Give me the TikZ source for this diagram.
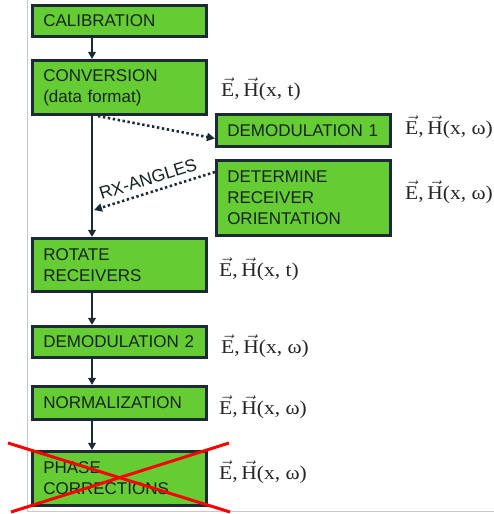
\documentclass[tikz,border=0pt]{standalone}
\usepackage{fontspec}
\usepackage{graphicx}
\usetikzlibrary{arrows.meta,calc}
\newfontfamily\arialf{Liberation Sans}
\newfontfamily\tmsf{Liberation Serif}
\definecolor{boxgreen}{HTML}{66CC33}
\definecolor{boxline}{HTML}{1B2A33}
\definecolor{txtdark}{HTML}{162222}
\definecolor{framegray}{HTML}{C8C8C8}
\tikzset{
  stepbox/.style={draw=boxline, line width=2.6pt, fill=boxgreen, text=txtdark,
    minimum width=174.5pt, inner xsep=11pt, text width=152.5pt, align=left,
    font=\arialf\fontsize{17}{21}\selectfont},
  flowarr/.style={draw=boxline, line width=2pt, -{Triangle[length=7pt,width=7.5pt]}},
  dotarr/.style={draw=boxline, line width=2.6pt, dash pattern=on 2.4pt off 2.6pt,
    -{Triangle[length=8pt,width=8pt]}},
  ehlab/.style={anchor=west, inner sep=0pt, text=black!85,
    font=\tmsf\fontsize{19.5}{22}\selectfont},
  redx/.style={draw=red, line width=3pt},
}
\newcommand{\ehvec}[1]{\scalebox{1.1}[1]{$\vec{\hbox{E}}$,$\,\vec{\hbox{H}}$(x,\ #1)}}
\begin{document}
\begin{tikzpicture}[x=1pt,y=-1pt]
\useasboundingbox (0,0) rectangle (494,514);
% frame
\draw[framegray, line width=0.9pt] (27,0) -- (27,511) -- (494,511);
% boxes
\node[stepbox, minimum height=31.5pt] (cal) at (119.5,21) {CALIBRATION};
\node[stepbox, minimum height=54.5pt] (conv) at (119.5,87.5) {CONVERSION\\(data format)};
\node[stepbox, minimum height=32.5pt] (dem1) at (303.5,130.5) {DEMODULATION 1};
\node[stepbox, minimum height=75.5pt] (det) at (303.5,198) {DETERMINE\\RECEIVER\\ORIENTATION};
\node[stepbox, minimum height=53.5pt] (rot) at (119.5,265) {ROTATE\\RECEIVERS};
\node[stepbox, minimum height=31.5pt] (dem2) at (119.5,342) {DEMODULATION 2};
\node[stepbox, minimum height=33.5pt] (norm) at (119.5,403) {NORMALIZATION};
\node[stepbox, minimum height=54.5pt] (phase) at (119.5,478.5) {PHASE\\CORRECTIONS};
% spine coordinates
\coordinate (spine) at (92,0);
\coordinate (dotstart) at (98,0);
\coordinate (rxend) at (94,210);
% solid arrows
\draw[flowarr] (cal.south -| spine) -- (conv.north -| spine);
\draw[flowarr] (conv.south -| spine) -- (rot.north -| spine);
\draw[flowarr] (rot.south -| spine) -- (dem2.north -| spine);
\draw[flowarr] (dem2.south -| spine) -- (norm.north -| spine);
\draw[flowarr] (norm.south -| spine) -- (phase.north -| spine);
% dotted arrows
\draw[dotarr] (conv.south -| dotstart) -- ($(dem1.west)+(0,8)$);
\draw[dotarr] ($(det.west)+(0,-26)$) -- node[pos=0.52, sloped, above=2.5pt, text=txtdark,
  font=\arialf\fontsize{17.5}{19}\selectfont] (rxlab) {RX-ANGLES} (rxend);
% labels
\node[ehlab] (l1) at (221,89) {\ehvec{t}};
\node[ehlab] (l2) at (405,127) {\ehvec{ω}};
\node[ehlab] (l3) at (405,192) {\ehvec{ω}};
\node[ehlab] (l4) at (219,269) {\ehvec{t}};
\node[ehlab] (l5) at (221,346) {\ehvec{ω}};
\node[ehlab] (l6) at (219,407) {\ehvec{ω}};
\node[ehlab] (l7) at (219,472) {\ehvec{ω}};
% red cross
\draw[redx] (8,443) -- (230,512);
\draw[redx] (11,512) -- (229,443);
\end{tikzpicture}
\end{document}
